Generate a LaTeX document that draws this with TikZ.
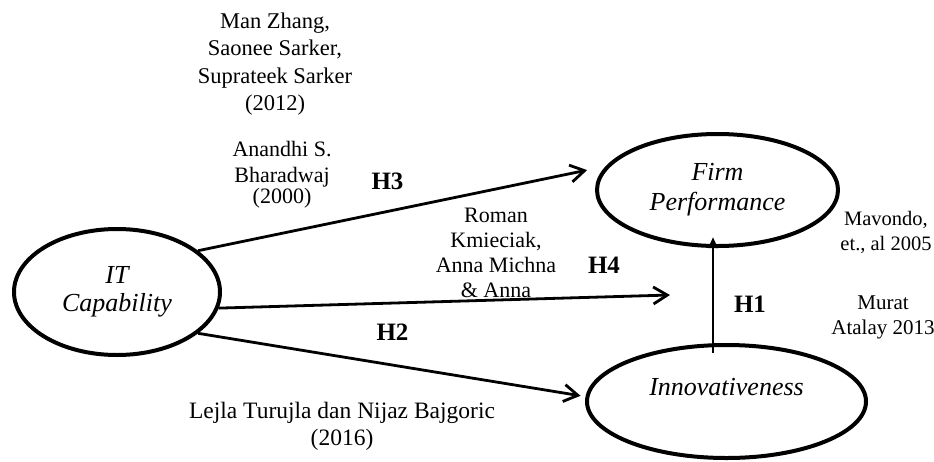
\documentclass[tikz,border=0pt]{standalone}
\usepackage{fontspec}
\setmainfont{Liberation Serif}
\usetikzlibrary{shapes.geometric,arrows.meta,calc}
\begin{document}
\begin{tikzpicture}[x=1pt,y=-1pt,
  construct/.style={ellipse,draw,line width=4pt,inner sep=0pt,align=center,
    font=\fontsize{26}{30}\selectfont\itshape},
  ref/.style={align=center,inner sep=0pt,font=\fontsize{22}{25}\selectfont},
  hyp/.style={inner sep=0pt,font=\fontsize{25}{30}\selectfont\bfseries},
  link/.style={line width=2.8pt,-{Straight Barb[length=14pt,width=17pt]}},
  h1link/.style={line width=2.8pt,-{Triangle[length=11pt,width=9pt]}}]
\useasboundingbox (0,0) rectangle (934,461);
% constructs
\node[construct,minimum width=206pt,minimum height=126pt,
  font=\fontsize{26}{28}\selectfont\itshape] (it) at (117,292) {IT\\Capability};
\node[construct,minimum width=241pt,minimum height=112pt] (fp) at (717.5,190) {Firm\\Performance};
\node[construct,minimum width=279pt,minimum height=113pt,
  label={[font=\fontsize{26}{30}\selectfont\itshape,yshift=14.5pt]center:Innovativeness}] (inn) at (726.5,401.5) {};
% free ends
\coordinate (h4end) at (670,295);
\coordinate (h1start) at ($(fp.south |- inn.north)+(-4.5,10)$);
\coordinate (h1end) at ($(fp.south)+(-4.5,-11)$);
% connectors
\draw[link,shorten >=19pt] (it.27) -- (fp.168);
\draw[link] (it.-9) -- (h4end);
\draw[link,shorten >=5pt] (it.-27) -- (inn.178.5);
\draw[h1link] (h1start) -- (h1end);
% hypothesis labels
\node[hyp] (h3) at (387.5,181.5) {H3};
\node[hyp] (h4) at (604,265) {H4};
\node[hyp] (h2) at (392.5,332.5) {H2};
\node[hyp] (h1) at (750,304) {H1};
% references
\node[ref,font=\fontsize{22.5}{27.5}\selectfont] (zhang) at (275,64)
  {Man Zhang,\\Saonee Sarker,\\Suprateek Sarker\\(2012)};
\node[ref,font=\fontsize{22}{26}\selectfont] (bharadwaj) at (282,175)
  {Anandhi S.\\Bharadwaj\\[-5pt](2000)};
\node[ref,font=\fontsize{22}{25}\selectfont] (kmieciak) at (496,252.5)
  {Roman\\Kmieciak,\\Anna Michna\\\& Anna};
\node[ref,font=\fontsize{20.5}{25}\selectfont] (mavondo) at (886,232.5)
  {Mavondo,\\et., al 2005};
\node[ref,font=\fontsize{21}{25}\selectfont] (atalay) at (883,317.5)
  {Murat\\Atalay 2013};
\node[ref,font=\fontsize{23.5}{27}\selectfont] (turujla) at (342,426.5)
  {Lejla Turujla dan Nijaz Bajgoric\\(2016)};
\end{tikzpicture}
\end{document}
